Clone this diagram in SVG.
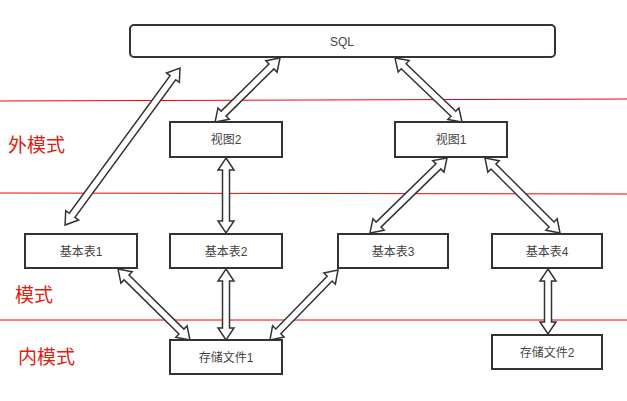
<svg xmlns="http://www.w3.org/2000/svg" width="627" height="401" viewBox="0 0 627 401">
<style>
.b{fill:#fff;stroke:#333;stroke-width:2}
.t{font-family:"Liberation Sans","Noto Sans CJK SC",sans-serif;font-size:12px;fill:#444;text-anchor:middle}
.r{stroke:#e00;stroke-width:1}
.l{font-family:"Noto Sans CJK SC",sans-serif;font-size:19px;fill:#e02010}
.a{fill:#fff;stroke:#333;stroke-width:1.5}
</style>
<rect width="627" height="401" fill="#fff"/>
<g id="layers">
<line class="r" x1="0" y1="101" x2="627" y2="99"/>
<line class="r" x1="0" y1="193" x2="627" y2="194"/>
<line class="r" x1="0" y1="320" x2="627" y2="320"/>
<text class="l" x="8" y="152">外模式</text>
<text class="l" x="15" y="302">模式</text>
<text class="l" x="18" y="364">内模式</text>
</g>
<g id="connectors">
<polygon class="a" transform="translate(180,68) rotate(126.2)" points="0,0 12,-8 12,-3.5 182.6,-3.5 182.6,-8 194.6,0 182.6,8 182.6,3.5 12,3.5 12,8"/>
<polygon class="a" transform="translate(280,58) rotate(135.4)" points="0,0 12,-8 12,-3.5 79.2,-3.5 79.2,-8 91.2,0 79.2,8 79.2,3.5 12,3.5 12,8"/>
<polygon class="a" transform="translate(395,58) rotate(43.7)" points="0,0 12,-8 12,-3.5 80.7,-3.5 80.7,-8 92.7,0 80.7,8 80.7,3.5 12,3.5 12,8"/>
<polygon class="a" transform="translate(226,158) rotate(90)" points="0,0 12,-8 12,-3.5 63,-3.5 63,-8 75,0 63,8 63,3.5 12,3.5 12,8"/>
<polygon class="a" transform="translate(447,158) rotate(135.8)" points="0,0 12,-8 12,-3.5 95.5,-3.5 95.5,-8 107.5,0 95.5,8 95.5,3.5 12,3.5 12,8"/>
<polygon class="a" transform="translate(485,158) rotate(45)" points="0,0 12,-8 12,-3.5 94.1,-3.5 94.1,-8 106.1,0 94.1,8 94.1,3.5 12,3.5 12,8"/>
<polygon class="a" transform="translate(118,269) rotate(44.6)" points="0,0 12,-8 12,-3.5 89.1,-3.5 89.1,-8 101.1,0 89.1,8 89.1,3.5 12,3.5 12,8"/>
<polygon class="a" transform="translate(226,269) rotate(90)" points="0,0 12,-8 12,-3.5 59,-3.5 59,-8 71,0 59,8 59,3.5 12,3.5 12,8"/>
<polygon class="a" transform="translate(338,270) rotate(134.2)" points="0,0 12,-8 12,-3.5 85.6,-3.5 85.6,-8 97.6,0 85.6,8 85.6,3.5 12,3.5 12,8"/>
<polygon class="a" transform="translate(548,269) rotate(90)" points="0,0 12,-8 12,-3.5 53,-3.5 53,-8 65,0 53,8 53,3.5 12,3.5 12,8"/>
</g>
<g id="sql"><rect class="b" x="130" y="25" width="425" height="32" rx="4"/><text class="t" x="342" y="46">SQL</text></g>
<g id="view2"><rect class="b" x="170" y="122" width="112" height="35"/><text class="t" x="226" y="144">视图2</text></g>
<g id="view1"><rect class="b" x="395" y="122" width="112" height="35"/><text class="t" x="451" y="144">视图1</text></g>
<g id="t1"><rect class="b" x="25" y="234" width="112" height="34"/><text class="t" x="81" y="256">基本表1</text></g>
<g id="t2"><rect class="b" x="170" y="234" width="112" height="34"/><text class="t" x="226" y="256">基本表2</text></g>
<g id="t3"><rect class="b" x="338" y="234" width="110" height="34"/><text class="t" x="393" y="256">基本表3</text></g>
<g id="t4"><rect class="b" x="492" y="234" width="110" height="34"/><text class="t" x="547" y="256">基本表4</text></g>
<g id="f1"><rect class="b" x="170" y="340" width="112" height="34"/><text class="t" x="226" y="362">存储文件1</text></g>
<g id="f2"><rect class="b" x="492" y="335" width="110" height="34"/><text class="t" x="547" y="357">存储文件2</text></g>
</svg>
